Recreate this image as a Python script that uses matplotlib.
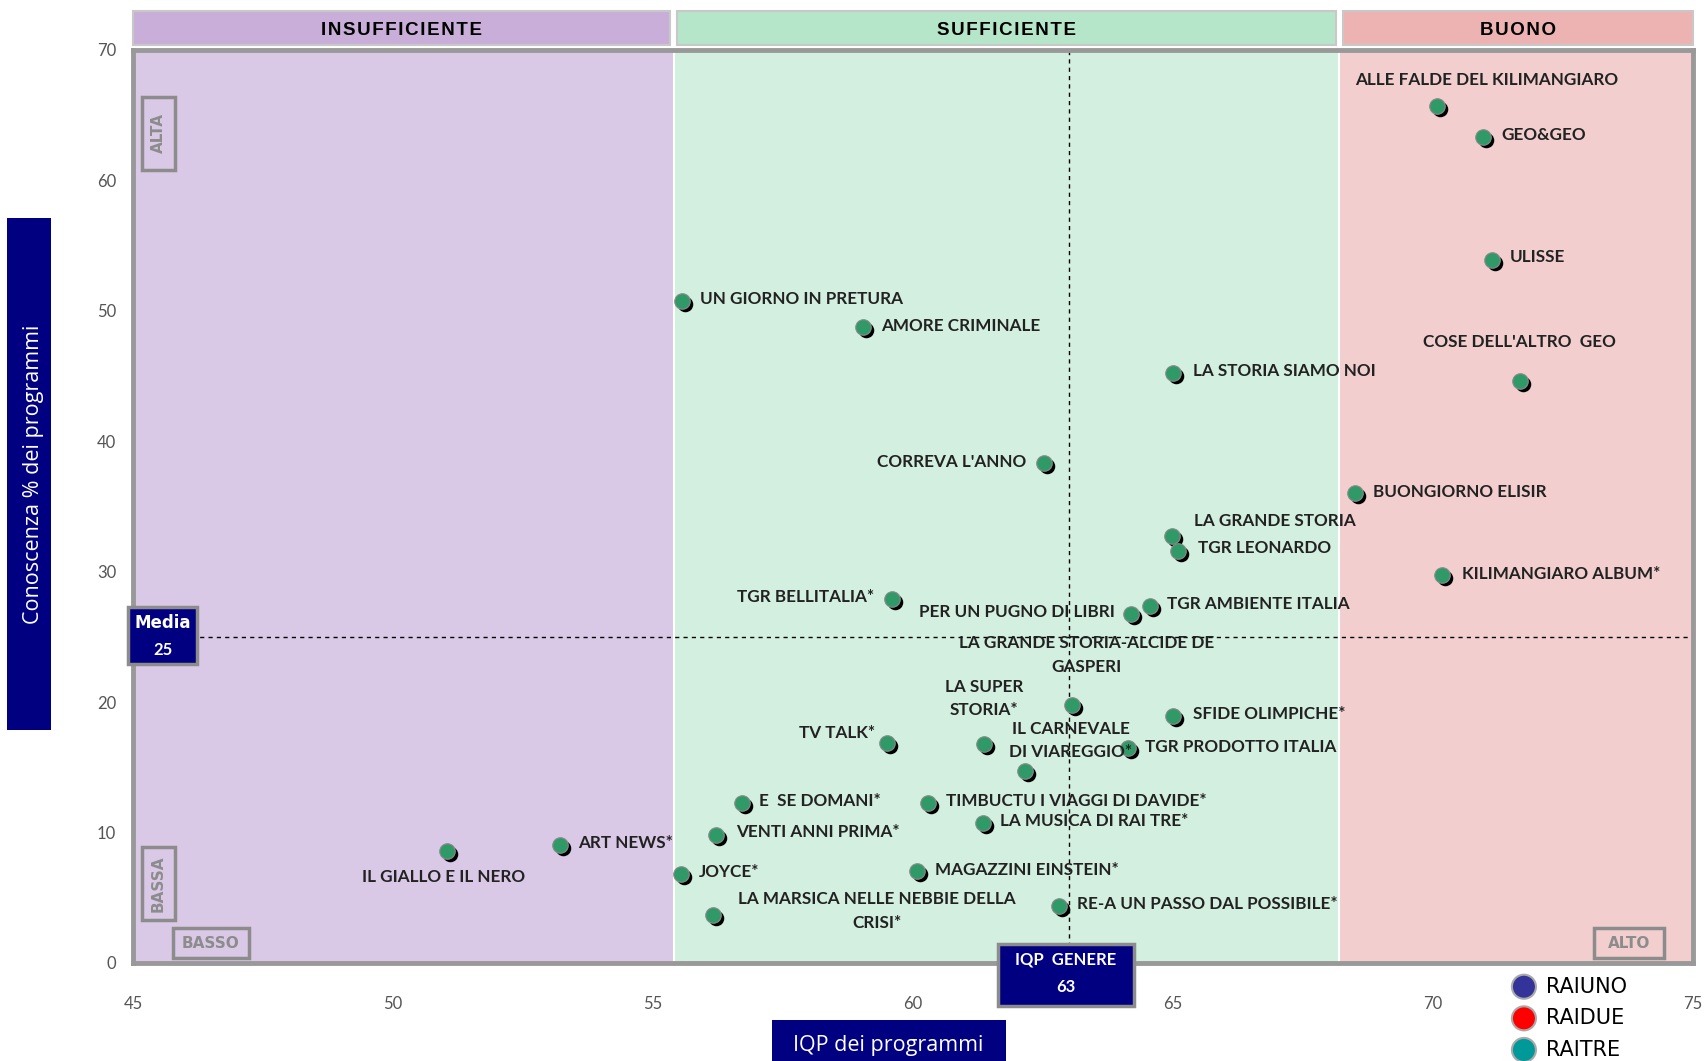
import matplotlib.pyplot as plt
import matplotlib.transforms as mtransforms
from matplotlib.patches import Rectangle

# dati
programmi = [
    "ALLE FALDE DEL KILIMANGIARO", "GEO&GEO", "ULISSE", "COSE DELL'ALTRO  GEO",
    "UN GIORNO IN PRETURA", "AMORE CRIMINALE", "LA STORIA SIAMO NOI", "CORREVA L'ANNO",
    "BUONGIORNO ELISIR", "LA GRANDE STORIA", "TGR LEONARDO", "KILIMANGIARO ALBUM*",
    "TGR BELLITALIA*", "PER UN PUGNO DI LIBRI", "TGR AMBIENTE ITALIA",
    "LA GRANDE STORIA-ALCIDE DE\nGASPERI", "LA SUPER\nSTORIA*", "IL CARNEVALE\nDI VIAREGGIO*",
    "TGR PRODOTTO ITALIA", "SFIDE OLIMPICHE*", "TV TALK*", "E  SE DOMANI*",
    "TIMBUCTU I VIAGGI DI DAVIDE*", "LA MUSICA DI RAI TRE*", "VENTI ANNI PRIMA*",
    "ART NEWS*", "IL GIALLO E IL NERO", "JOYCE*", "MAGAZZINI EINSTEIN*",
    "LA MARSICA NELLE NEBBIE DELLA\nCRISI*", "RE-A UN PASSO DAL POSSIBILE*",
]
iqp = [70.08, 70.96, 71.13, 71.67, 55.56, 59.04, 65.0, 62.51, 68.49, 64.98, 65.1, 70.17,
       59.6, 64.2, 64.56, 63.05, 61.36, 62.15, 64.14, 65.0, 59.5, 56.72, 60.29, 61.34,
       56.21, 53.22, 51.03, 55.54, 60.08, 56.15, 62.8]
conoscenza = [65.7, 63.3, 53.9, 44.6, 50.75, 48.75, 45.25, 38.3, 36.0, 32.7, 31.6, 29.75,
              27.9, 26.75, 27.4, 19.8, 16.75, 14.75, 16.5, 18.9, 16.9, 12.3, 12.25, 10.75,
              9.83, 9.08, 8.58, 6.83, 7.08, 3.67, 4.4]

soglie = [45, 55.4, 68.2, 75]
fasce = ["INSUFFICIENTE", "SUFFICIENTE", "BUONO"]
media_conoscenza = 25
iqp_genere = 63
reti = ["RAIUNO", "RAIDUE", "RAITRE"]
x_ticks = [45, 50, 55, 60, 65, 70, 75]
y_ticks = [0, 10, 20, 30, 40, 50, 60, 70]

# posizione etichette (pixel rispetto al punto)
etichette = [
    (49, 26, 'center'), (18, 2, 'left'), (18, 3, 'left'), (0, 39, 'center'),
    (18, 2, 'left'), (18, 1, 'left'), (20, 2, 'left'), (-17, 1, 'right'),
    (18, 1, 'left'), (22, 15, 'left'), (20, 3, 'left'), (20, 1, 'left'),
    (-18, 2, 'right'), (-17, 2, 'right'), (17, 2, 'left'), (15, 50, 'center'),
    (0, 46, 'center'), (46, 30, 'center'), (17, 1, 'left'), (20, 2, 'left'),
    (-12, 10, 'right'), (17, 2, 'left'), (18, 2, 'left'), (17, 2, 'left'),
    (20, 3, 'left'), (18, 2, 'left'), (-3, -26, 'center'), (18, 2, 'left'),
    (18, 1, 'left'), (164, 4, 'center'), (18, 2, 'left'),
]

col_fasce = ['#D9C8E6', '#D3EFDF', '#F2CECE']
col_header = ['#C8AED8', '#B5E6C9', '#EDB3B3']
col_reti = ['#333399', '#FF0000', '#009999']
verde = '#2F9A68'
blu = '#000080'
grigio = '#8c8c8c'

plt.rcParams['font.family'] = ['Lato', 'DejaVu Sans']

fig = plt.figure(figsize=(17.05, 10.61), dpi=100)
ax = fig.add_axes([0.078, 0.0924, 0.915, 0.8606])
ax.set_xlim(45, 75)
ax.set_ylim(0, 70)

for i in range(3):
    ax.axvspan(soglie[i], soglie[i + 1], color=col_fasce[i], zorder=0, lw=0)
for s in soglie[1:-1]:
    ax.axvline(s, color='white', lw=1.5, zorder=0.5)

# intestazioni fasce
blend = mtransforms.blended_transform_factory(ax.transData, ax.transAxes)
for i in range(3):
    x0 = soglie[i] + (0.06 if i > 0 else 0)
    x1 = soglie[i + 1] - (0.07 if i < 2 else 0)
    ax.add_patch(Rectangle((x0, 1.005), x1 - x0, 0.038, transform=blend, fc=col_header[i],
                           ec='#c8c8c8', lw=1.5, clip_on=False))
    ax.text((x0 + x1) / 2, 1.021, '\u200a'.join(fasce[i]), transform=blend, ha='center',
            va='center', fontsize=13.5, fontweight='bold',
            family=['Liberation Sans', 'DejaVu Sans'])

ax.axhline(media_conoscenza, color='black', lw=1, ls=(0, (3, 3)), zorder=1)
ax.axvline(iqp_genere, color='black', lw=1, ls=(0, (3, 3)), zorder=1)

# punti con ombra
ombra = mtransforms.offset_copy(ax.transData, fig=fig, x=3, y=-3, units='dots')
ax.scatter(iqp, conoscenza, s=125, color='black', transform=ombra, zorder=3, lw=0)
ax.scatter(iqp, conoscenza, s=125, color=verde, edgecolor='#8a8a8a', lw=0.8, zorder=4)

for nome, x, y, (dx, dy, ha) in zip(programmi, iqp, conoscenza, etichette):
    ax.annotate(nome, (x, y), xytext=(dx, dy), textcoords='offset pixels', ha=ha,
                va='center', multialignment='center', fontsize=12.3, fontweight='bold',
                color='#222222', linespacing=1.6, zorder=5)

ax.set_xticks(x_ticks)
ax.set_yticks(y_ticks)
ax.tick_params(axis='both', length=0, labelsize=12, labelcolor='#555555')
ax.tick_params(axis='x', pad=24)
ax.tick_params(axis='y', pad=12)
for sp in ax.spines.values():
    sp.set_color('#999999')
    sp.set_linewidth(3.5)

# box Media e IQP genere
ax.add_patch(Rectangle((44.9, media_conoscenza - 2.07), 1.33, 4.37, fc=blu, ec=grigio,
                       lw=2.5, clip_on=False, zorder=6))
ax.text(45.57, media_conoscenza + 1.1, "Media", color='white', fontsize=12, fontweight='bold',
        ha='center', va='center', family=['DejaVu Sans'], zorder=7, clip_on=False)
ax.text(45.57, media_conoscenza - 1.0, str(media_conoscenza), color='white', fontsize=12,
        fontweight='bold', ha='center', va='center', zorder=7, clip_on=False)
ax.add_patch(Rectangle((iqp_genere - 1.37, -3.3), 2.62, 4.76, fc=blu, ec=grigio,
                       lw=2.5, clip_on=False, zorder=6))
ax.text(iqp_genere - 0.06, 0.3, "IQP  GENERE", color='white', fontsize=12, fontweight='bold',
        ha='center', va='center', zorder=7, clip_on=False)
ax.text(iqp_genere - 0.06, -1.84, str(iqp_genere), color='white', fontsize=12,
        fontweight='bold', ha='center', va='center', zorder=7, clip_on=False)

# box ALTA / BASSA / BASSO / ALTO
for (x0, y0, w, h, testo, rot) in [(45.17, 60.8, 0.64, 5.6, "ALTA", 90),
                                   (45.17, 3.3, 0.64, 5.6, "BASSA", 90),
                                   (45.77, 0.38, 1.46, 2.3, "BASSO", 0),
                                   (73.1, 0.38, 1.34, 2.3, "ALTO", 0)]:
    ax.add_patch(Rectangle((x0, y0), w, h, fc='none', ec=grigio, lw=2.5, zorder=6))
    ax.text(x0 + w / 2, y0 + h / 2, testo, rotation=rot, color=grigio, fontsize=11,
            fontweight='bold', ha='center', va='center', zorder=7,
            family=['DejaVu Sans'])

# etichette assi
fig.add_artist(Rectangle((0.0041, 0.312), 0.0258, 0.483, transform=fig.transFigure,
                         fc=blu, ec='none'))
fig.text(0.0195, 0.553, "Conoscenza % dei programmi", rotation=90, color='white',
         fontsize=15.5, ha='center', va='center', family=['Open Sans', 'DejaVu Sans'])
fig.add_artist(Rectangle((0.4528, -0.01), 0.1372, 0.0486, transform=fig.transFigure,
                         fc=blu, ec='none'))
fig.text(0.521, 0.015, "IQP dei programmi", color='white', fontsize=15.5, ha='center',
         va='center', family=['Open Sans', 'DejaVu Sans'])

# legenda reti
axl = fig.add_axes([0.88, -0.0045, 0.1, 0.0894])
axl.set_xlim(0, 1)
axl.set_ylim(-0.5, 2.5)
axl.axis('off')
pos = [2, 1, 0]
axl.scatter([0.138] * 3, pos, s=300, c=col_reti, edgecolor='#aaaaaa', lw=1.5, clip_on=False)
for r, p in zip(reti, pos):
    axl.text(0.27, p, r, fontsize=15, va='center', ha='left',
             family=['Liberation Sans Narrow', 'DejaVu Sans'], clip_on=False)

fig.savefig("out.png", dpi=100)
